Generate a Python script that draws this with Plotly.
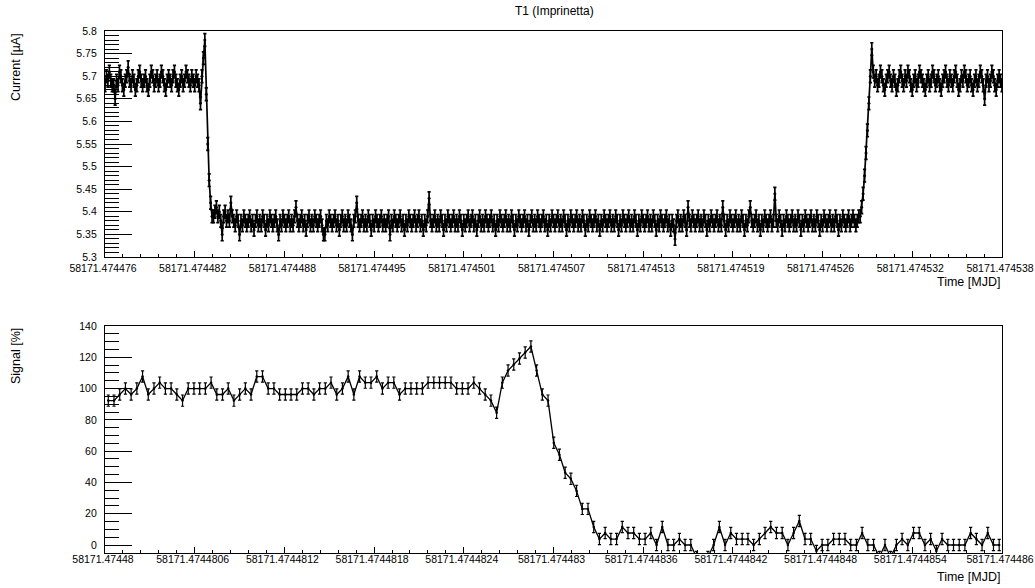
import numpy as np
import plotly.graph_objects as go

W, H = 1035, 588
FONT = "Liberation Sans, Arial, Helvetica, sans-serif"

TITLE = "T1 (Imprinetta)"

# ---------------- upper panel: beam current ----------------
CUR_T0_MJD = 58171.474476          # left edge of the time axis
CUR_STEP = 0.1                     # sample spacing, 1e-6 MJD
CUR_ERR = 0.014                    # uA
CUR_TICK_STEP = 6.2                # 1e-6 MJD between labelled ticks
CUR_TICK_TEXT = ["58171.474476", "58171.474482", "58171.474488", "58171.474495",
                 "58171.474501", "58171.474507", "58171.474513", "58171.474519",
                 "58171.474526", "58171.474532", "58171.474538"]

# current in units of 0.01 uA
cur_before = [568, 570, 569, 571, 569, 568, 568, 565, 569, 568,
              571, 570, 568, 567, 569, 570, 572, 569, 568, 570,
              569, 567, 568, 570, 571, 569, 568, 569, 570, 568,
              567, 569, 571, 570, 568, 569, 570, 568, 569, 571,
              570, 568, 567, 569, 570, 569, 568, 570, 571, 569,
              568, 567, 569, 570, 568, 569, 571, 570, 569, 568,
              570, 569, 568, 570, 569, 568]
cur_fall = [564, 570, 574, 578, 566, 555, 547, 542, 539]
cur_low = [539, 540, 541, 539, 540, 538, 535, 539, 540, 538, 539, 538, 542, 539, 538, 537, 539, 538, 535, 538,
           537, 539, 538, 537, 538, 539, 537, 538, 536, 538, 539, 537, 538, 537, 539, 538, 536, 538, 537, 539,
           538, 537, 538, 539, 537, 535, 538, 537, 539, 538, 537, 538, 539, 537, 538, 537, 539, 541, 538, 537,
           538, 539, 537, 538, 536, 538, 539, 537, 538, 537, 539, 538, 537, 538, 539, 537, 535, 535, 538, 537,
           539, 538, 537, 538, 539, 537, 538, 536, 538, 539, 537, 538, 537, 539, 538, 537, 535, 538, 539, 542,
           538, 537, 538, 539, 537, 538, 537, 539, 538, 536, 538, 537, 539, 538, 537, 538, 539, 537, 538, 537,
           538, 539, 535, 538, 537, 539, 538, 537, 538, 539, 537, 538, 536, 538, 537, 539, 538, 537, 538, 539,
           537, 538, 539, 537, 538, 536, 538, 537, 539, 543, 538, 537, 538, 539, 537, 538, 537, 539, 538, 536,
           538, 537, 539, 538, 537, 538, 539, 537, 538, 537, 539, 538, 536, 538, 537, 538, 539, 537, 538, 539,
           537, 538, 536, 538, 539, 537, 538, 537, 539, 538, 537, 538, 539, 537, 538, 536, 538, 537, 539, 538,
           537, 538, 539, 537, 538, 537, 539, 538, 536, 538, 537, 539, 538, 537, 538, 539, 537, 538, 536, 538,
           539, 537, 538, 537, 539, 538, 537, 538, 539, 537, 538, 536, 538, 537, 539, 538, 537, 538, 539, 537,
           538, 537, 539, 538, 536, 538, 537, 539, 538, 537, 538, 539, 537, 538, 537, 539, 538, 536, 538, 537,
           539, 538, 537, 538, 539, 537, 538, 536, 538, 537, 539, 538, 537, 538, 539, 537, 538, 537, 539, 538,
           536, 538, 537, 539, 538, 537, 538, 539, 537, 538, 537, 539, 538, 536, 538, 537, 539, 538, 537, 538,
           539, 537, 538, 537, 539, 538, 536, 538, 537, 539, 538, 537, 538, 539, 537, 538, 536, 538, 537, 534,
           538, 539, 537, 538, 537, 539, 538, 536, 541, 538, 537, 539, 538, 537, 538, 539, 537, 538, 537, 539,
           538, 536, 538, 537, 539, 538, 537, 538, 539, 537, 538, 537, 541, 538, 536, 538, 537, 539, 538, 537,
           538, 539, 537, 538, 537, 539, 538, 536, 538, 537, 539, 541, 538, 537, 538, 539, 537, 538, 536, 538,
           537, 539, 538, 537, 538, 539, 537, 538, 544, 538, 537, 539, 538, 536, 538, 537, 539, 538, 537, 538,
           539, 537, 538, 537, 539, 538, 536, 538, 537, 539, 538, 537, 538, 539, 537, 538, 537, 539, 538, 536,
           538, 537, 539, 538, 537, 538, 539, 537, 538, 537, 539, 538, 536, 538, 537, 539, 538, 537, 538, 539,
           537, 538, 539, 538, 537, 538, 539]
cur_rise = [539, 541, 544, 548, 553, 558, 564, 570, 576]
cur_after = [571, 569, 570, 568, 569, 571, 570, 568, 567, 569,
             570, 571, 569, 568, 570, 569, 567, 568, 570, 571,
             569, 568, 570, 569, 571, 570, 568, 567, 569, 570,
             568, 569, 571, 570, 569, 568, 567, 569, 570, 568,
             569, 571, 570, 568, 569, 570, 568, 567, 569, 570,
             571, 569, 568, 570, 569, 568, 570, 571, 569, 567,
             568, 570, 569, 571, 570, 568, 569, 570, 568, 567,
             569, 570, 568, 569, 571, 570, 568, 565, 569, 570,
             568, 569, 571, 570, 568, 567, 569, 570, 569, 568]

# ---------------- lower panel: signal ----------------
SIG_T0_MJD = 58171.47448
SIG_FIRST = 0.022                  # first sample, 1e-6 MJD after axis origin
SIG_STEP = 0.0382                  # sample spacing, 1e-6 MJD
SIG_ERR = 3.6                      # %
SIG_TICK_STEP = 0.6
SIG_TICK_TEXT = ["58171.47448", "58171.4744806", "58171.4744812", "58171.4744818",
                 "58171.4744824", "58171.474483", "58171.4744836", "58171.4744842",
                 "58171.4744848", "58171.4744854", "58171.474486"]

signal = [92.3, 92.3, 96.2, 100, 96.2, 100, 107.7, 96.2, 100, 103.8,
          100, 100, 96.2, 92.3, 100, 100, 100, 100, 103.8, 96.2,
          96.2, 100, 92.3, 96.2, 100, 96.2, 107.7, 107.7, 100, 100,
          96.2, 96.2, 96.2, 96.2, 100, 100, 96.2, 100, 100, 103.8,
          96.2, 100, 107.7, 96.2, 107.7, 103.8, 103.8, 107.7, 100, 103.8,
          103.8, 96.2, 100, 100, 100, 100, 103.8, 103.8, 103.8, 103.8,
          103.8, 100, 100, 100, 103.8, 100, 96.2, 92.3, 84.6, 103.8,
          111.5, 115.4, 119.2, 123.1, 126.9, 111.5, 96.2, 92.3, 65.4, 57.7,
          46.2, 42.3, 34.6, 23.1, 23.1, 11.5, 3.8, 7.7, 3.8, 3.8,
          11.5, 7.7, 7.7, 3.8, 3.8, 7.7, 0, 11.5, 0, 0,
          3.8, 0, 0, -7.7, -11.5, -7.7, 0, 11.5, 0, 7.7,
          3.8, 3.8, 3.8, 0, 3.8, 7.7, 11.5, 7.7, 7.7, 0,
          7.7, 15.4, 3.8, 3.8, -3.8, 0, 0, 3.8, 3.8, 3.8,
          0, 0, 7.7, 0, 0, -7.7, 0, -7.7, 0, 3.8,
          0, 7.7, 7.7, 0, 3.8, -3.8, 3.8, 0, 0, 0,
          0, 7.7, 3.8, 0, 7.7, 0, 0]

# ---------------- build series ----------------
current = np.array(cur_before + cur_fall + cur_low + cur_rise + cur_after) / 100.0
cur_t = np.arange(len(current)) * CUR_STEP
sig = np.array(signal)
sig_t = SIG_FIRST + np.arange(len(sig)) * SIG_STEP

# frame geometry (paper fractions)
X0, X1 = 105 / W, 1002 / W
TOP_DOM = [1 - 257 / H, 1 - 31 / H]
BOT_DOM = [1 - 553 / H, 1 - 326 / H]


def graph(x, y, err, xa, ya, lw, ew, msize):
    return go.Scatter(
        x=x, y=y, xaxis=xa, yaxis=ya, mode="lines+markers",
        line=dict(color="black", width=lw),
        marker=dict(color="black", size=msize),
        error_y=dict(type="constant", value=err, color="black", thickness=ew, width=1.6),
        showlegend=False, hoverinfo="skip", cliponaxis=True,
    )


fig = go.Figure()
fig.add_trace(graph(cur_t, current, CUR_ERR, "x", "y", 1.7, 1.7, 3))
fig.add_trace(graph(sig_t, sig, SIG_ERR, "x2", "y2", 1.3, 1.2, 2.5))


def time_axis(dom_y_anchor, step, labels, standoff):
    n = len(labels)
    major = [step * k for k in range(n)]
    minor = [step * k + step * j / 5 for k in range(n - 1) for j in range(1, 5)]
    return dict(
        domain=[X0, X1], anchor=dom_y_anchor, range=[0, step * (n - 1)],
        automargin=False,
        tickmode="array", tickvals=major, ticktext=labels,
        ticks="inside", ticklen=6, tickwidth=1.2, tickcolor="black",
        minor=dict(tickmode="array", tickvals=minor, ticks="inside", ticklen=3,
                   tickwidth=1.2, tickcolor="black", showgrid=False),
        showline=True, linecolor="black", linewidth=1.3, mirror=True,
        showgrid=False, zeroline=False,
        tickfont=dict(family=FONT, size=10.5, color="black"),
        ticklabelstandoff=standoff, ticklabelshift=-2, ticklabeloverflow="allow",
    )


def value_axis(dom, x_anchor, rng, dtick, minor_dtick, tick0):
    return dict(
        domain=dom, anchor=x_anchor, range=rng, automargin=False,
        tickmode="linear", tick0=tick0, dtick=dtick,
        ticks="inside", ticklen=27, tickwidth=1.2, tickcolor="black",
        minor=dict(tickmode="linear", tick0=tick0, dtick=minor_dtick, ticks="inside",
                   ticklen=13.5, tickwidth=1.2, tickcolor="black", showgrid=False),
        showline=True, linecolor="black", linewidth=1.3, mirror=True,
        showgrid=False, zeroline=False,
        tickfont=dict(family=FONT, size=10.5, color="black"),
        ticklabelstandoff=5, ticklabeloverflow="allow",
    )


fig.update_layout(
    template="none",
    width=W, height=H, margin=dict(l=0, r=0, t=0, b=0, autoexpand=False),
    paper_bgcolor="white", plot_bgcolor="white",
    font=dict(family=FONT, color="black"),
    xaxis=time_axis("y", CUR_TICK_STEP, CUR_TICK_TEXT, 1),
    yaxis=value_axis(TOP_DOM, "x", [5.3, 5.8], 0.05, 0.01, 5.3),
    xaxis2=time_axis("y2", SIG_TICK_STEP, SIG_TICK_TEXT, -4),
    yaxis2=value_axis(BOT_DOM, "x2", [-5.1, 140], 20, 5, 0),
)

ann = [
    dict(text=TITLE, x=554 / W, y=1 - 11 / H, xanchor="center", yanchor="middle",
         font=dict(size=12)),
    dict(text="Current [\u00b5A]", x=16 / W, y=1 - 31 / H, xanchor="center", yanchor="top",
         textangle=-90, font=dict(size=12.5)),
    dict(text="Time [MJD]", x=1002 / W, y=1 - 282 / H, xanchor="right", yanchor="middle",
         font=dict(size=12.5)),
    dict(text="Signal [%]", x=16 / W, y=1 - 326 / H, xanchor="center", yanchor="top",
         textangle=-90, font=dict(size=12.5)),
    dict(text="Time [MJD]", x=1002 / W, y=1 - 577 / H, xanchor="right", yanchor="middle",
         font=dict(size=12.5)),
]
for a in ann:
    a.update(xref="paper", yref="paper", showarrow=False)
    a["font"].update(family=FONT, color="black")
fig.update_layout(annotations=ann)

fig.write_html("out.html")
